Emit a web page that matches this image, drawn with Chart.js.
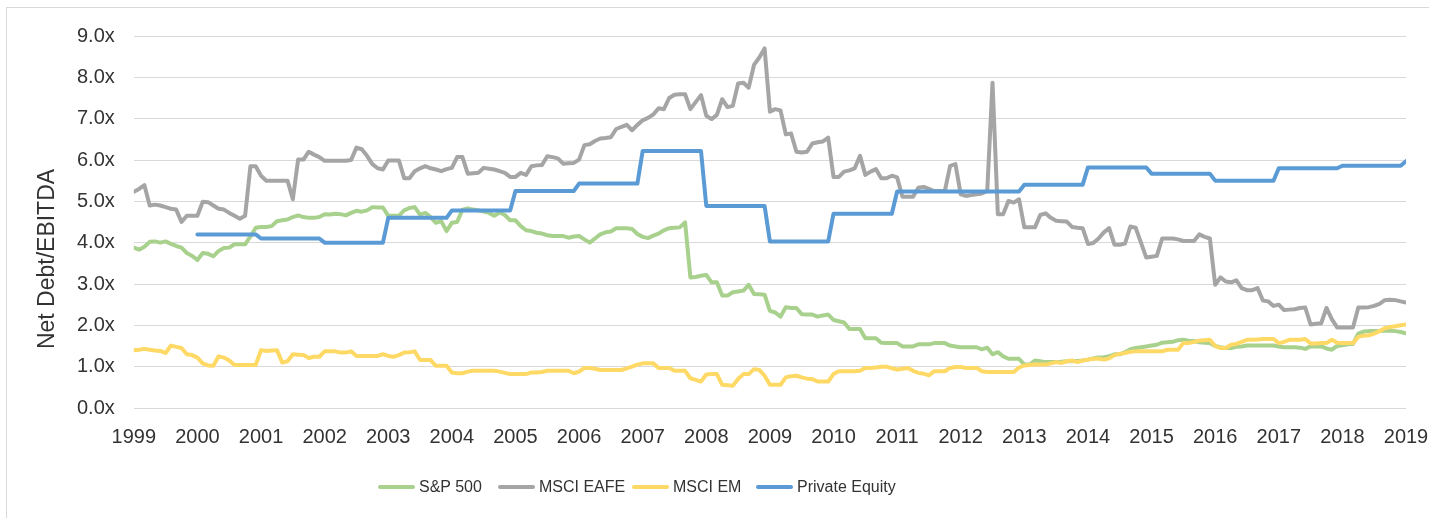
<!DOCTYPE html>
<html>
<head>
<meta charset="utf-8">
<title>Net Debt/EBITDA</title>
<script src="https://cdn.jsdelivr.net/npm/chart.js@4.4.1/dist/chart.umd.min.js"></script>
<style>
  html, body { margin: 0; padding: 0; background: #fff; overflow: hidden; }
  #wrap { position: relative; width: 1429px; height: 518px; }
  #frame { position: absolute; left: 6px; top: 7px; width: 1500px; height: 600px; border: 1px solid #d9d9d9; box-sizing: border-box; }
  #chart { position: absolute; left: 0; top: 0; }
  #legend { position: absolute; left: 378px; top: 477px; height: 20px; display: flex; align-items: center;
            font: 16px "Liberation Sans", Arial, sans-serif; color: #333; }
  .item { display: flex; align-items: center; white-space: nowrap; }
  .item:nth-child(1) { width: 120px; }
  .item:nth-child(2) { width: 134px; }
  .item:nth-child(3) { width: 124px; }
  .swatch { width: 37px; height: 4px; border-radius: 2px; margin-right: 4px; }
</style>
</head>
<body>
<div id="wrap">
  <div id="frame"></div>
  <canvas id="chart" width="1429" height="518"></canvas>
  <div id="legend"></div>
</div>
<script>
// monthly series, Jan 1999 .. Jan 2019
const startYear = 1999;
const seriesNames = ['S&P 500', 'MSCI EAFE', 'MSCI EM', 'Private Equity'];
const yAxisTitle = 'Net Debt/EBITDA';

const sp500 = [
  3.88, 3.83, 3.90, 4.02, 4.03, 4.00, 4.03, 3.97, 3.92, 3.88, 3.75, 3.68, // 1999
  3.58, 3.75, 3.73, 3.67, 3.80, 3.87, 3.88, 3.96, 3.96, 3.96, 4.15, 4.36, // 2000
  4.38, 4.38, 4.40, 4.52, 4.54, 4.56, 4.62, 4.66, 4.62, 4.60, 4.60, 4.62, // 2001
  4.69, 4.68, 4.70, 4.69, 4.66, 4.72, 4.77, 4.75, 4.78, 4.86, 4.85, 4.85, // 2002
  4.65, 4.65, 4.65, 4.78, 4.84, 4.86, 4.68, 4.72, 4.62, 4.48, 4.52, 4.28, // 2003
  4.48, 4.50, 4.80, 4.83, 4.80, 4.78, 4.75, 4.72, 4.65, 4.73, 4.67, 4.54, // 2004
  4.54, 4.40, 4.30, 4.28, 4.24, 4.22, 4.18, 4.16, 4.16, 4.16, 4.12, 4.15, // 2005
  4.16, 4.08, 4.00, 4.10, 4.20, 4.25, 4.27, 4.35, 4.35, 4.35, 4.33, 4.21, // 2006
  4.14, 4.11, 4.17, 4.22, 4.30, 4.35, 4.36, 4.37, 4.49, 3.16, 3.17, 3.20, // 2007
  3.22, 3.04, 3.04, 2.72, 2.72, 2.80, 2.82, 2.84, 2.98, 2.76, 2.75, 2.74, // 2008
  2.35, 2.31, 2.21, 2.44, 2.42, 2.42, 2.27, 2.26, 2.26, 2.21, 2.24, 2.26, // 2009
  2.13, 2.10, 2.07, 1.91, 1.91, 1.91, 1.69, 1.69, 1.69, 1.58, 1.57, 1.57, // 2010
  1.57, 1.49, 1.49, 1.49, 1.54, 1.54, 1.54, 1.57, 1.57, 1.57, 1.51, 1.49, // 2011
  1.47, 1.47, 1.47, 1.47, 1.42, 1.46, 1.30, 1.35, 1.25, 1.19, 1.19, 1.19, // 2012
  1.05, 1.05, 1.15, 1.13, 1.11, 1.11, 1.11, 1.12, 1.13, 1.13, 1.14, 1.15, // 2013
  1.17, 1.20, 1.22, 1.23, 1.25, 1.30, 1.30, 1.35, 1.42, 1.45, 1.47, 1.49, // 2014
  1.51, 1.53, 1.58, 1.59, 1.60, 1.64, 1.65, 1.63, 1.62, 1.59, 1.58, 1.57, // 2015
  1.50, 1.47, 1.45, 1.45, 1.48, 1.49, 1.51, 1.51, 1.51, 1.51, 1.51, 1.51, // 2016
  1.49, 1.47, 1.47, 1.47, 1.46, 1.43, 1.49, 1.49, 1.49, 1.44, 1.41, 1.50, // 2017
  1.52, 1.54, 1.55, 1.80, 1.85, 1.86, 1.86, 1.86, 1.87, 1.87, 1.86, 1.84, // 2018
  1.81
];

const msciEafe = [
  5.23, 5.30, 5.39, 4.90, 4.92, 4.90, 4.86, 4.82, 4.80, 4.50, 4.65, 4.65, // 1999
  4.65, 4.99, 4.98, 4.90, 4.82, 4.80, 4.72, 4.65, 4.58, 4.65, 5.85, 5.85, // 2000
  5.62, 5.50, 5.50, 5.50, 5.50, 5.50, 5.05, 6.01, 6.01, 6.20, 6.13, 6.07, // 2001
  5.98, 5.98, 5.98, 5.98, 5.98, 6.00, 6.30, 6.26, 6.10, 5.90, 5.80, 5.77, // 2002
  5.99, 5.99, 5.99, 5.56, 5.56, 5.73, 5.80, 5.85, 5.80, 5.77, 5.73, 5.78, // 2003
  5.81, 6.07, 6.07, 5.67, 5.68, 5.69, 5.81, 5.79, 5.77, 5.73, 5.69, 5.59, // 2004
  5.59, 5.69, 5.64, 5.85, 5.87, 5.88, 6.09, 6.07, 6.04, 5.91, 5.92, 5.93, // 2005
  6.01, 6.36, 6.38, 6.46, 6.52, 6.53, 6.55, 6.75, 6.80, 6.85, 6.72, 6.85, // 2006
  6.96, 7.02, 7.10, 7.25, 7.23, 7.50, 7.58, 7.59, 7.59, 7.23, 7.40, 7.57, // 2007
  7.07, 6.99, 7.09, 7.47, 7.28, 7.31, 7.85, 7.87, 7.75, 8.30, 8.48, 8.70, // 2008
  7.17, 7.23, 7.20, 6.62, 6.64, 6.20, 6.18, 6.20, 6.40, 6.43, 6.45, 6.54, // 2009
  5.59, 5.59, 5.72, 5.75, 5.80, 6.10, 5.64, 5.72, 5.78, 5.56, 5.56, 5.62, // 2010
  5.58, 5.11, 5.11, 5.11, 5.33, 5.35, 5.30, 5.25, 5.25, 5.25, 5.86, 5.90, // 2011
  5.17, 5.13, 5.15, 5.17, 5.19, 5.25, 7.87, 4.69, 4.69, 5.01, 4.97, 5.05, // 2012
  4.37, 4.37, 4.37, 4.67, 4.71, 4.60, 4.53, 4.52, 4.51, 4.38, 4.36, 4.35, // 2013
  3.97, 3.99, 4.10, 4.25, 4.35, 3.95, 3.95, 3.98, 4.39, 4.36, 4.00, 3.64, // 2014
  3.66, 3.68, 4.10, 4.10, 4.10, 4.08, 4.04, 4.04, 4.04, 4.20, 4.14, 4.10, // 2015
  2.98, 3.16, 3.06, 3.04, 3.09, 2.90, 2.85, 2.85, 2.90, 2.60, 2.58, 2.47, // 2016
  2.50, 2.37, 2.38, 2.39, 2.42, 2.43, 2.02, 2.04, 2.05, 2.42, 2.15, 1.95, // 2017
  1.95, 1.95, 1.95, 2.43, 2.43, 2.44, 2.47, 2.52, 2.61, 2.62, 2.61, 2.58, // 2018
  2.55
];

const msciEm = [
  1.40, 1.41, 1.43, 1.41, 1.39, 1.38, 1.33, 1.51, 1.48, 1.45, 1.30, 1.28, // 1999
  1.22, 1.08, 1.03, 1.02, 1.25, 1.22, 1.15, 1.04, 1.04, 1.04, 1.04, 1.04, // 2000
  1.40, 1.38, 1.39, 1.40, 1.10, 1.13, 1.30, 1.29, 1.28, 1.21, 1.24, 1.24, // 2001
  1.37, 1.37, 1.37, 1.34, 1.34, 1.37, 1.26, 1.26, 1.26, 1.26, 1.26, 1.30, // 2002
  1.26, 1.24, 1.28, 1.34, 1.35, 1.37, 1.16, 1.16, 1.16, 1.02, 1.02, 1.02, // 2003
  0.86, 0.84, 0.84, 0.88, 0.90, 0.90, 0.90, 0.90, 0.90, 0.88, 0.85, 0.82, // 2004
  0.82, 0.82, 0.82, 0.86, 0.86, 0.87, 0.90, 0.90, 0.90, 0.90, 0.90, 0.84, // 2005
  0.88, 0.97, 0.97, 0.95, 0.92, 0.92, 0.92, 0.92, 0.92, 0.96, 1.00, 1.05, // 2006
  1.08, 1.08, 1.08, 0.97, 0.97, 0.97, 0.90, 0.90, 0.90, 0.72, 0.68, 0.64, // 2007
  0.81, 0.82, 0.82, 0.56, 0.55, 0.54, 0.70, 0.82, 0.82, 0.94, 0.92, 0.78, // 2008
  0.56, 0.56, 0.56, 0.74, 0.77, 0.78, 0.74, 0.71, 0.70, 0.64, 0.64, 0.64, // 2009
  0.82, 0.89, 0.89, 0.89, 0.89, 0.90, 0.97, 0.97, 0.98, 1.00, 1.00, 0.96, // 2010
  0.93, 0.95, 0.97, 0.90, 0.85, 0.83, 0.79, 0.89, 0.89, 0.89, 0.97, 0.99, // 2011
  0.99, 0.97, 0.97, 0.97, 0.89, 0.87, 0.87, 0.87, 0.87, 0.87, 0.87, 0.98, // 2012
  1.03, 1.04, 1.05, 1.05, 1.05, 1.08, 1.11, 1.09, 1.13, 1.15, 1.11, 1.15, // 2013
  1.17, 1.19, 1.19, 1.17, 1.20, 1.28, 1.31, 1.33, 1.36, 1.37, 1.37, 1.37, // 2014
  1.37, 1.37, 1.37, 1.41, 1.41, 1.41, 1.57, 1.57, 1.60, 1.63, 1.64, 1.65, // 2015
  1.50, 1.45, 1.45, 1.53, 1.55, 1.60, 1.65, 1.65, 1.66, 1.67, 1.67, 1.67, // 2016
  1.57, 1.60, 1.65, 1.65, 1.65, 1.67, 1.56, 1.56, 1.57, 1.57, 1.65, 1.58, // 2017
  1.57, 1.57, 1.57, 1.72, 1.75, 1.76, 1.80, 1.86, 1.93, 1.96, 1.98, 2.00, // 2018
  2.02
];

// private equity is an annual figure (2000..2018), held flat through each year
const peYears = [2000, 2001, 2002, 2003, 2004, 2005, 2006, 2007, 2008, 2009,
                 2010, 2011, 2012, 2013, 2014, 2015, 2016, 2017, 2018];
const peValues = [4.20, 4.10, 4.00, 4.60, 4.78, 5.25, 5.43, 6.22, 4.89, 4.03,
                  4.70, 5.24, 5.24, 5.40, 5.82, 5.67, 5.50, 5.80, 5.86];
const peLast = 5.97; // Jan 2019

const colors = ['#A9D18E', '#A5A5A5', '#FFD966', '#5B9BD5'];

function monthly(arr) {
  return arr.map((v, i) => ({ x: startYear + i / 12, y: v }));
}

const pePoints = [];
peYears.forEach((yr, k) => {
  for (let m = 0; m < 12; m++) pePoints.push({ x: yr + m / 12, y: peValues[k] });
});
pePoints.push({ x: peYears[peYears.length - 1] + 1, y: peLast });

const allSeries = [monthly(sp500), monthly(msciEafe), monthly(msciEm), pePoints];

const datasets = allSeries.map((pts, i) => ({
  label: seriesNames[i],
  data: pts,
  borderColor: colors[i],
  backgroundColor: colors[i],
  borderWidth: 4,
  pointRadius: 0,
  tension: 0,
  borderCapStyle: 'round',
  borderJoinStyle: 'round',
  order: 4 - i
}));

const tickFont = { family: '"Liberation Sans", Arial, sans-serif', size: 20 };

const yTitlePlugin = {
  id: 'yTitle',
  afterDraw(chart) {
    const ctx = chart.ctx;
    ctx.save();
    ctx.translate(48, chart.height / 2);
    ctx.rotate(-Math.PI / 2);
    ctx.font = '23px "Liberation Sans", Arial, sans-serif';
    ctx.fillStyle = '#333';
    ctx.textAlign = 'center';
    ctx.textBaseline = 'middle';
    ctx.fillText(yAxisTitle, 0, 0);
    ctx.restore();
  }
};

const chart = new Chart(document.getElementById('chart').getContext('2d'), {
  type: 'line',
  data: { datasets: datasets },
  options: {
    responsive: false,
    animation: false,
    layout: { padding: { left: 58, right: 23, top: 36, bottom: 52 } },
    plugins: { legend: { display: false }, tooltip: { enabled: false } },
    scales: {
      x: {
        type: 'linear',
        min: 1999,
        max: 2019,
        grid: { display: false, drawTicks: false },
        border: { display: false },
        afterFit: s => { s.paddingLeft = 0; s.paddingRight = 0; },
        ticks: {
          stepSize: 1,
          autoSkip: false,
          maxRotation: 0,
          padding: 17,
          color: '#333',
          font: tickFont,
          callback: v => String(v)
        }
      },
      y: {
        min: 0,
        max: 9,
        grid: { color: '#D9D9D9', lineWidth: 1, drawTicks: false },
        border: { display: false },
        ticks: {
          stepSize: 1,
          padding: 19,
          color: '#333',
          font: tickFont,
          callback: v => v.toFixed(1) + 'x'
        }
      }
    }
  },
  plugins: [yTitlePlugin]
});

// legend below the plot
const legend = document.getElementById('legend');
seriesNames.forEach((name, i) => {
  const item = document.createElement('div');
  item.className = 'item';
  const sw = document.createElement('span');
  sw.className = 'swatch';
  sw.style.background = colors[i];
  const txt = document.createElement('span');
  txt.textContent = name;
  item.appendChild(sw);
  item.appendChild(txt);
  legend.appendChild(item);
});
</script>
</body>
</html>
